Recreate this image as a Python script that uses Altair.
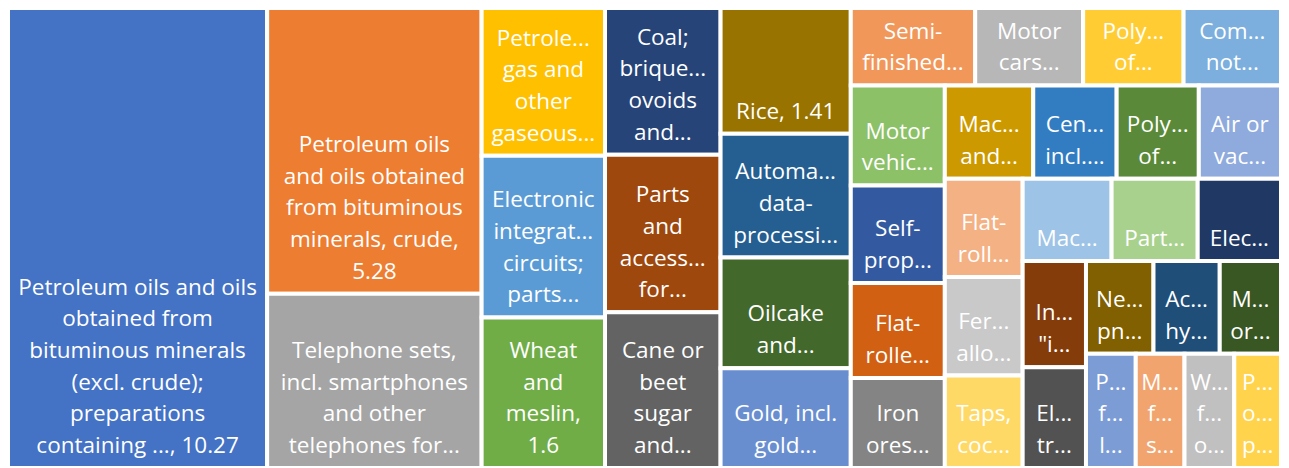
import altair as alt
import pandas as pd
import colorsys

# ---- data ----
labels = [
    "Petroleum oils and oils\nobtained from\nbituminous minerals\n(excl. crude);\npreparations\ncontaining ..., 10.27",
    "Petroleum oils\nand oils obtained\nfrom bituminous\nminerals, crude,\n5.28",
    "Telephone sets,\nincl. smartphones\nand other\ntelephones for...",
    "Petrole...\ngas and\nother\ngaseous...",
    "Electronic\nintegrat...\ncircuits;\nparts...",
    "Wheat\nand\nmeslin,\n1.6",
    "Coal;\nbrique...\novoids\nand...",
    "Parts\nand\naccess...\nfor...",
    "Cane or\nbeet\nsugar\nand...",
    "Rice, 1.41",
    "Automa...\ndata-\nprocessi...",
    "Oilcake\nand...",
    "Gold, incl.\ngold...",
    "Semi-\nfinished...",
    "Motor\ncars...",
    "Poly...\nof...",
    "Com...\nnot...",
    "Motor\nvehic...",
    "Self-\nprop...",
    "Flat-\nrolle...",
    "Iron\nores...",
    "Mac...\nand...",
    "Cen...\nincl....",
    "Poly...\nof...",
    "Air or\nvac...",
    "Flat-\nroll...",
    "Fer...\nallo...",
    "Taps,\ncoc...",
    "Mac...",
    "Part...",
    "Elec...",
    "In...\n\"i...",
    "El...\ntr...",
    "Ne...\npn...",
    "Ac...\nhy...",
    "M...\nor...",
    "P...\nf...\nl...",
    "M...\nf...\ns...",
    "W...\nf...\no...",
    "P...\no...\np...",
]

values = [
    10.27, 5.28, 3.22,
    1.57, 1.72, 1.60,
    1.46, 1.57, 1.55,
    1.41, 1.39, 1.24, 1.12,
    0.83, 0.72, 0.67, 0.65,
    0.81, 0.79, 0.77, 0.73,
    0.71, 0.67, 0.66, 0.66,
    0.66, 0.66, 0.62,
    0.63, 0.61, 0.59,
    0.58, 0.55,
    0.54, 0.53, 0.49,
    0.49, 0.48, 0.49, 0.46,
]

# how many consecutive items go into each strip, and the strip direction
strip_sizes = [1, 2, 3, 3, 4, 4, 4, 4, 3, 3, 2, 3, 4]
strip_dirs = ["col", "col", "col", "col", "col", "row", "col", "row", "col", "row", "col", "row", "row"]

# Office theme accents and the per-cycle luminance modifiers (lumMod, lumOff)
accents = ["#4472C4", "#ED7D31", "#A5A5A5", "#FFC000", "#5B9BD5", "#70AD47"]
cycle_mods = [(1.0, 0.0), (0.6, 0.0), (0.8, 0.2), (0.8, 0.0), (0.6, 0.4), (0.5, 0.0), (0.7, 0.3)]


def office_color(i):
    base = accents[i % 6]
    mod, off = cycle_mods[(i // 6) % len(cycle_mods)]
    r, g, b = (int(base[k:k + 2], 16) / 255 for k in (1, 3, 5))
    h, l, s = colorsys.rgb_to_hls(r, g, b)
    l = min(1.0, l * mod + off)
    r, g, b = colorsys.hls_to_rgb(h, l, s)
    return "#%02X%02X%02X" % (round(r * 255), round(g * 255), round(b * 255))


W, H = 1273, 460

# ---- strip layout computed from the values ----
rows = []
x0, y0, x1, y1 = 0.0, 0.0, float(W), float(H)
idx = 0
remaining = sum(values)
for size, d in zip(strip_sizes, strip_dirs):
    items = list(range(idx, idx + size))
    s = sum(values[i] for i in items)
    if d == "col":
        w = (x1 - x0) * s / remaining
        yy = y0
        for i in items:
            h = (y1 - y0) * values[i] / s
            rows.append(dict(x0=x0, x1=x0 + w, y0=yy, y1=yy + h, i=i))
            yy += h
        x0 += w
    else:
        h = (y1 - y0) * s / remaining
        xx = x0
        for i in items:
            w = (x1 - x0) * values[i] / s
            rows.append(dict(x0=xx, x1=xx + w, y0=y0, y1=y0 + h, i=i))
            xx += w
        y0 += h
    remaining -= s
    idx += size

for r in rows:
    r["label"] = labels[r["i"]]
    r["nlines"] = labels[r["i"]].count("\n") + 1
    r["value"] = values[r["i"]]
    r["color"] = office_color(r["i"])
    r["xc"] = (r["x0"] + r["x1"]) / 2

df = pd.DataFrame(rows)

xs = alt.Scale(domain=[0, W], nice=False, zero=False)
ys = alt.Scale(domain=[0, H], nice=False, zero=False, reverse=True)

FS = 22.5
LH = 31.7

base = alt.Chart(df)
rects = base.mark_rect(stroke="white", strokeWidth=4).encode(
    x=alt.X("x0:Q", scale=xs, axis=None),
    x2="x1:Q",
    y=alt.Y("y0:Q", scale=ys, axis=None),
    y2="y1:Q",
    color=alt.Color("color:N", scale=None, legend=None),
)

layers = [rects]
for n in sorted(df["nlines"].unique()):
    layers.append(
        base.transform_filter(alt.datum.nlines == int(n)).mark_text(
            color="white", font="Open Sans", fontSize=FS, lineHeight=LH,
            baseline="bottom", align="center", dy=-10 - (int(n) - 1) * LH, lineBreak="\n",
        ).encode(
            x=alt.X("xc:Q", scale=xs, axis=None),
            y=alt.Y("y1:Q", scale=ys, axis=None),
            text="label:N",
        )
    )

chart = alt.layer(*layers).properties(
    width=W, height=H, padding=0,
    autosize=alt.AutoSizeParams(type="none"),
).configure_view(stroke=None)

chart.save("out.html", embed_options={"renderer": "svg", "actions": False})
